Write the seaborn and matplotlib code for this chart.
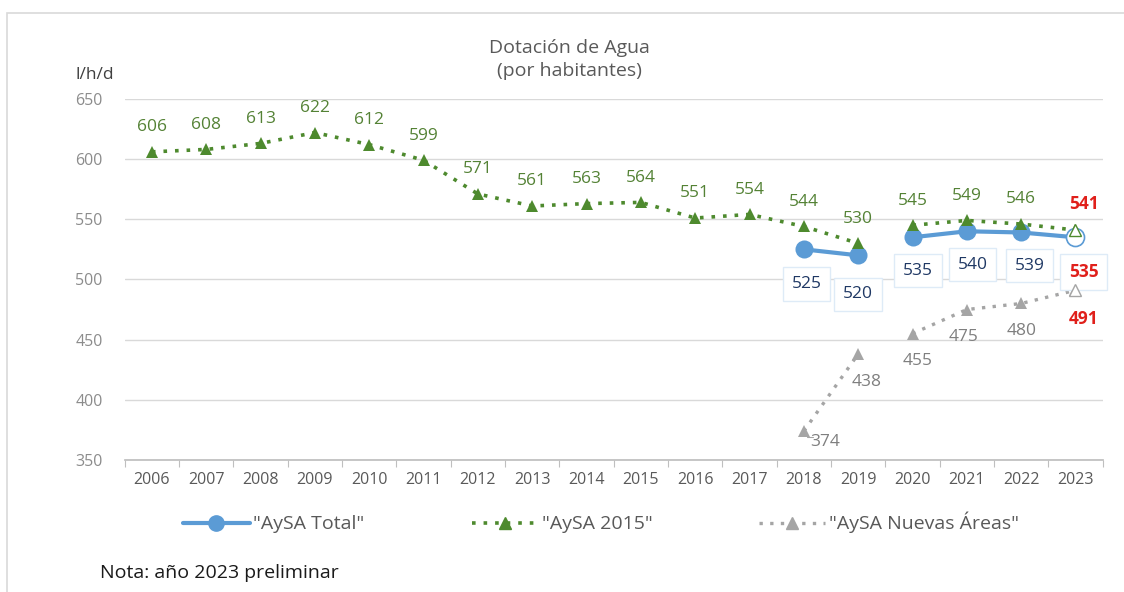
import numpy as np
import pandas as pd
import matplotlib.pyplot as plt
import seaborn as sns
from matplotlib.patches import Rectangle
from matplotlib.lines import Line2D

sns.set_theme(style='white')
plt.rcParams['font.family'] = ['Open Sans', 'DejaVu Sans']

years = [str(y) for y in range(2006, 2024)]
aysa_2015 = [606, 608, 613, 622, 612, 599, 571, 561, 563, 564, 551, 554, 544, 530,
             545, 549, 546, 541]
total_years = ['2018', '2019', '2020', '2021', '2022', '2023']
aysa_total = [525, 520, 535, 540, 539, 535]
nuevas = [374, 438, 455, 475, 480, 491]
# series are broken between 2019 and 2020
segments = [['2006', '2007', '2008', '2009', '2010', '2011', '2012', '2013', '2014',
             '2015', '2016', '2017', '2018', '2019'],
            ['2020', '2021', '2022', '2023']]

blue = '#5B9BD5'
green = '#4E8A2E'
green_txt = '#548235'
gray = '#A5A5A5'
gray_txt = '#7F7F7F'
red = '#E0201B'
navy = '#1F3864'
axis_txt = '#595959'

pos = {y: i for i, y in enumerate(years)}
df15 = pd.DataFrame({'year': years, 'val': aysa_2015})
df15['x'] = df15.year.map(pos)
dft = pd.DataFrame({'year': total_years, 'val': aysa_total})
dft['x'] = dft.year.map(pos)
dfn = pd.DataFrame({'year': total_years, 'val': nuevas})
dfn['x'] = dfn.year.map(pos)

fig = plt.figure(figsize=(11.24, 5.92), dpi=100)
ax = fig.add_axes([0.111, 0.223, 0.870, 0.610])

for seg in segments:
    s15 = df15[df15.year.isin(seg)]
    sns.lineplot(data=s15, x='x', y='val', ax=ax, color=green, linestyle=(0, (1, 2.2)),
                 linewidth=2.6, marker='^', markersize=9, markeredgewidth=0, zorder=3)
    st = dft[dft.year.isin(seg)]
    sns.lineplot(data=st, x='x', y='val', ax=ax, color=blue, linewidth=3,
                 marker='o', markersize=13, markeredgewidth=0, zorder=2)
    sn = dfn[dfn.year.isin(seg)]
    sns.lineplot(data=sn, x='x', y='val', ax=ax, color=gray, linestyle=(0, (1, 2.2)),
                 linewidth=2.4, marker='^', markersize=9, markeredgewidth=0, zorder=3)

# preliminary 2023 points drawn hollow
last = pos['2023']
ax.plot([last], [aysa_total[-1]], marker='o', markersize=13, markerfacecolor='white',
        markeredgecolor=blue, markeredgewidth=1.2, zorder=4)
ax.plot([last], [aysa_2015[-1]], marker='^', markersize=9, markerfacecolor='white',
        markeredgecolor=green, markeredgewidth=1.0, zorder=5)
ax.plot([last], [nuevas[-1]], marker='^', markersize=9, markerfacecolor='white',
        markeredgecolor=gray, markeredgewidth=1.0, zorder=5)

# data labels (2023 preliminary in bold red)
for i, (y, v) in enumerate(zip(years, aysa_2015)):
    prelim = y == '2023'
    ax.annotate(str(v), (pos[y], v), xytext=(6 if prelim else 0, 12),
                textcoords='offset points', ha='center', va='bottom', fontsize=12.5,
                color=red if prelim else green_txt,
                fontweight='bold' if prelim else 'normal')

total_off = [(2, -25), (0, -28), (4, -24), (4, -24), (6, -24), (6, -25)]
for (y, v), (dx, dy) in zip(zip(total_years, aysa_total), total_off):
    prelim = y == '2023'
    ax.annotate(str(v), (pos[y], v), xytext=(dx, dy), textcoords='offset points',
                ha='center', va='center', fontsize=12.5, color=red if prelim else navy,
                fontweight='bold' if prelim else 'normal',
                bbox=dict(boxstyle='square,pad=0.5', fc='white', ec='#DEEBF7', lw=1))

nue_off = [(15, -8), (6, -20), (4, -20), (-2, -20), (0, -20), (6, -21)]
for (y, v), (dx, dy) in zip(zip(total_years, nuevas), nue_off):
    prelim = y == '2023'
    ax.annotate(str(v), (pos[y], v), xytext=(dx, dy), textcoords='offset points',
                ha='center', va='center', fontsize=12.5, color=red if prelim else gray_txt,
                fontweight='bold' if prelim else 'normal')
ax.plot([pos['2018'] + 0.05, pos['2018'] + 0.16], [369, 369], color=gray, lw=0.8)

ax.set_xlim(-0.5, len(years) - 0.5)
ax.set_ylim(350, 650)
ax.set_yticks(range(350, 651, 50))
ax.set_xticks(range(len(years)))
ax.set_xticklabels(years)
ax.set_xticks(np.arange(-0.5, len(years), 1), minor=True)
ax.tick_params(axis='x', which='minor', length=5, color='#BFBFBF', width=0.8, bottom=True)
ax.tick_params(axis='x', which='major', length=0, pad=9, labelcolor=axis_txt, labelsize=11.5)
ax.tick_params(axis='y', length=0, pad=16, labelcolor='#8C8C8C', labelsize=11.5)
ax.grid(axis='y', color='#D9D9D9', linewidth=1)
ax.set_axisbelow(True)
for side in ['top', 'right', 'left']:
    ax.spines[side].set_visible(False)
ax.spines['bottom'].set_color('#BFBFBF')
ax.set_xlabel('')
ax.set_ylabel('')

fig.text(0.507, 0.900, 'Dotación de Agua\n(por habitantes)', ha='center', va='center',
         fontsize=14, color=axis_txt, linespacing=1.35)
fig.text(0.084, 0.873, 'l/h/d', ha='center', va='center', fontsize=12.5, color='#404040')

handles = [Line2D([], [], color=blue, lw=3, marker='o', markersize=11),
           Line2D([], [], color=green, lw=2.6, linestyle=(0, (1, 2.2)), marker='^', markersize=9),
           Line2D([], [], color=gray, lw=2.4, linestyle=(0, (1, 2.2)), marker='^', markersize=9)]
fig.legend(handles, ['"AySA Total"', '"AySA 2015"', '"AySA Nuevas Áreas"'],
           loc='center', bbox_to_anchor=(0.535, 0.117), ncol=3, frameon=False,
           fontsize=14, labelcolor=axis_txt, handlelength=3.4, handletextpad=0.2,
           columnspacing=5.5)

fig.text(0.089, 0.032, 'Nota: año 2023 preliminar', ha='left', va='center',
         fontsize=14, color='#1a1a1a')

fig.patches.append(Rectangle((0.006, -0.05), 1.05, 1.028, transform=fig.transFigure,
                             fill=False, ec='#D9D9D9', lw=1.2))

fig.savefig('out.png', dpi=100)
